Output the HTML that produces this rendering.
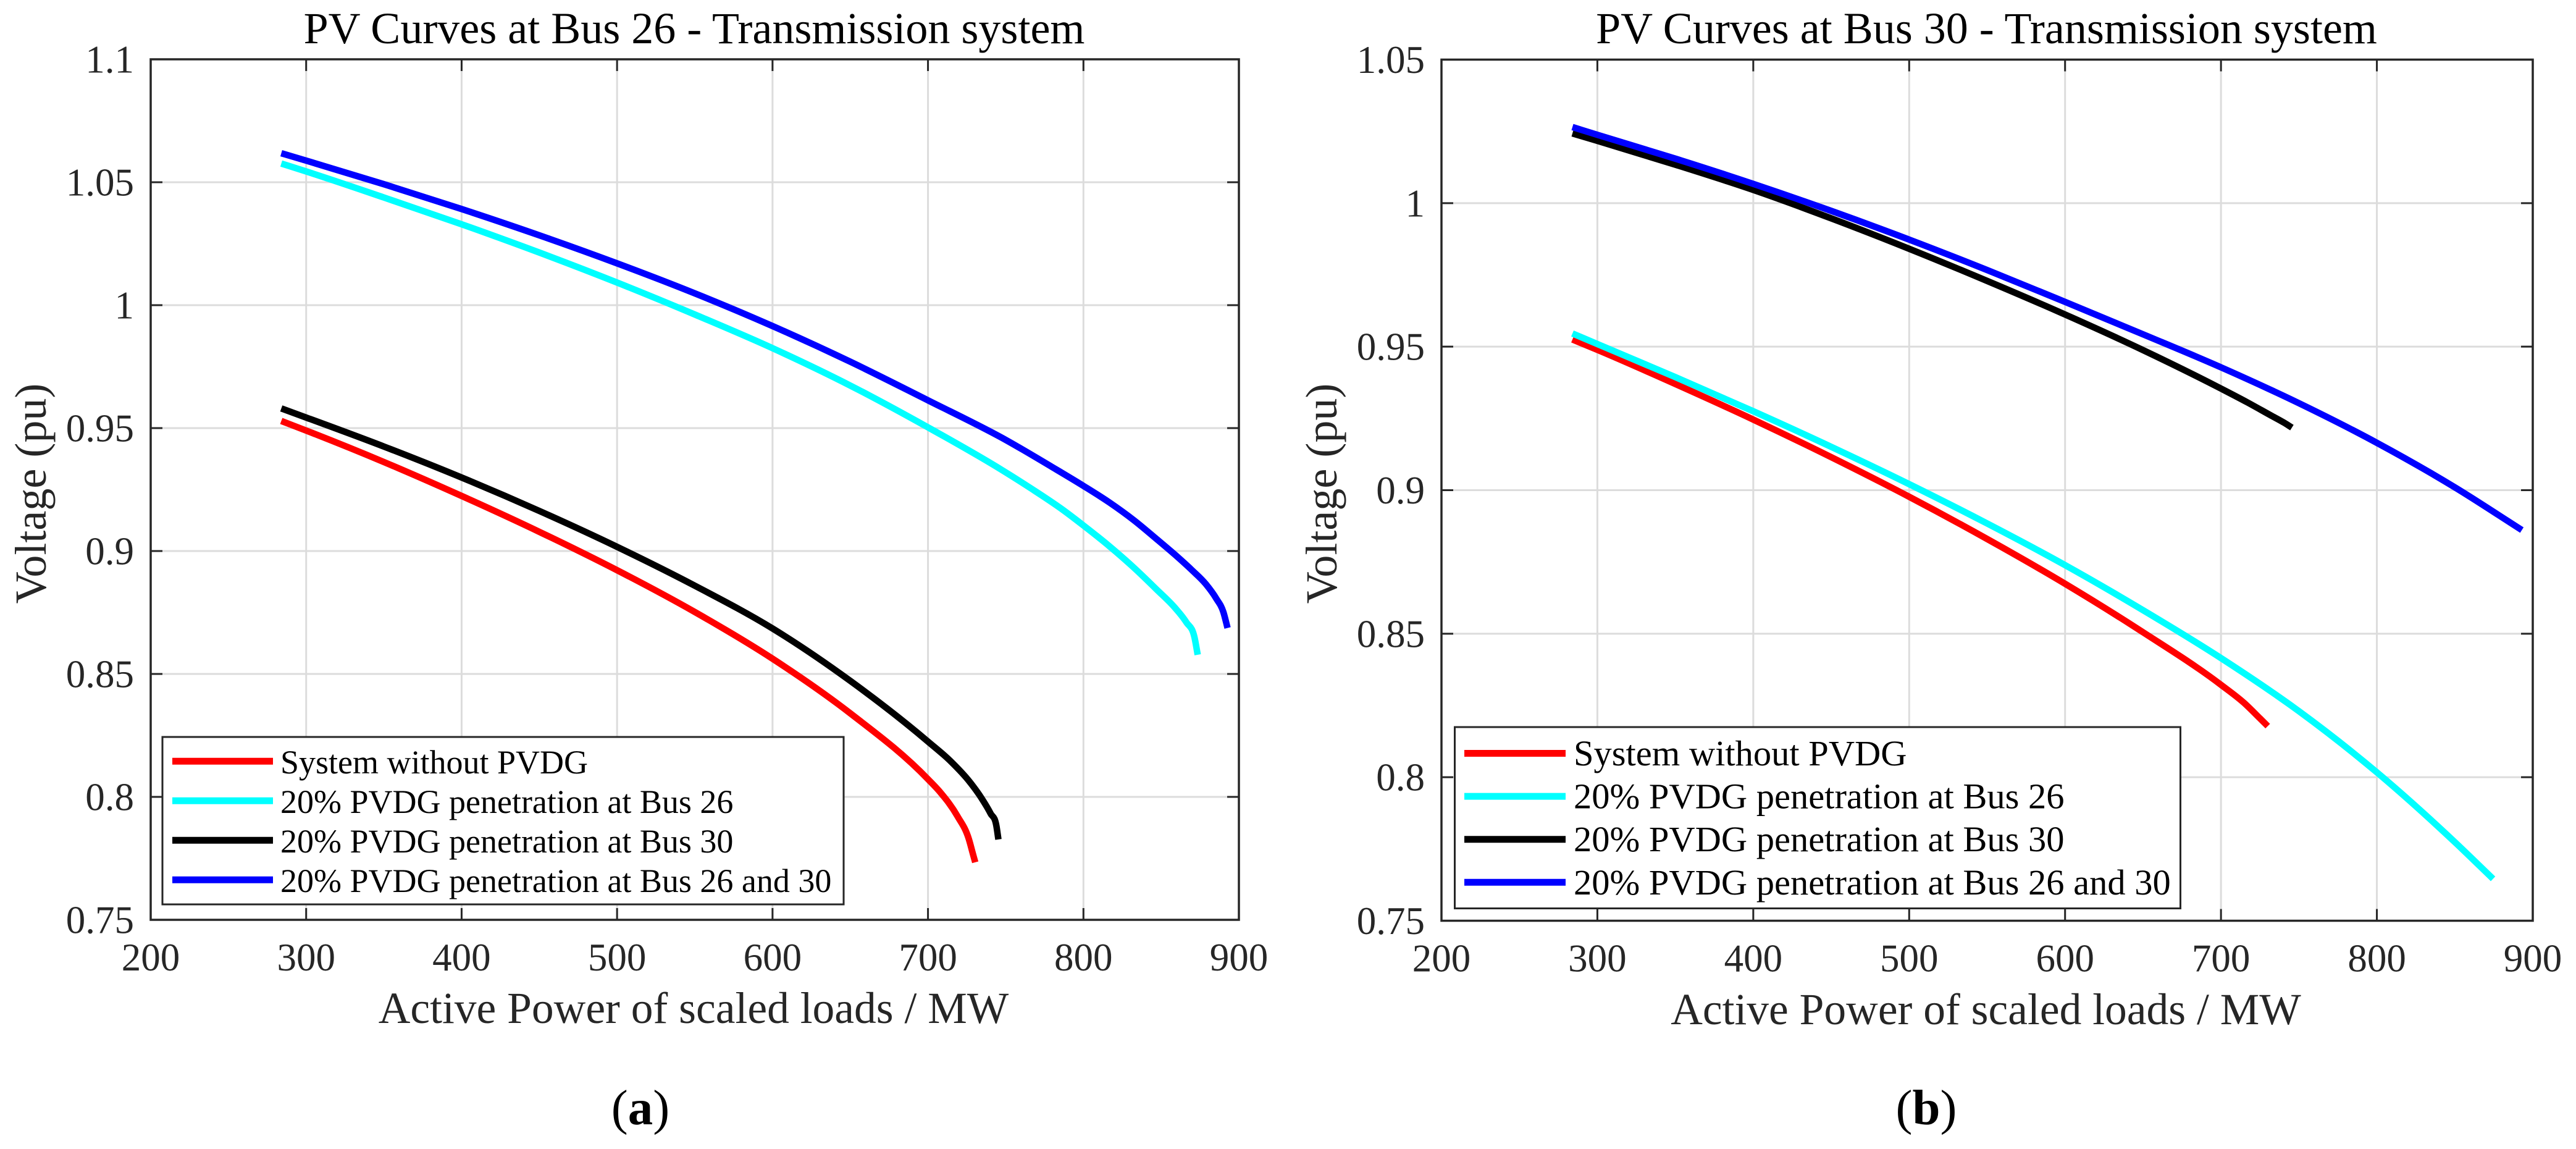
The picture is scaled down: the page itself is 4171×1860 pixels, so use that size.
<!DOCTYPE html>
<html lang="en">
<head>
<meta charset="utf-8">
<title>PV Curves - Transmission system</title>
<style>
html,body{margin:0;padding:0;background:#fff;width:4171px;height:1860px;overflow:hidden}
svg{display:block;position:absolute;left:0;top:0}
text{font-family:"Liberation Serif","Times New Roman",serif}
</style>
</head>
<body>
<svg id="fig" xmlns="http://www.w3.org/2000/svg" width="4171" height="1860" viewBox="0 0 4171 1860">
  <rect x="0" y="0" width="4171" height="1860" fill="#fff"/>
  <g id="chart-a"></g>
  <g id="chart-b"></g>
  <text x="1037" y="1820" font-size="81" text-anchor="middle" fill="#000">(<tspan font-weight="bold">a</tspan>)</text>
  <text x="3119" y="1820" font-size="81" text-anchor="middle" fill="#000">(<tspan font-weight="bold">b</tspan>)</text>
</svg>
<script>
// Shared axis tick values
const xTickValues = [200, 300, 400, 500, 600, 700, 800, 900];
const xTickLabels = ['200', '300', '400', '500', '600', '700', '800', '900'];

// Panel (a): y ticks
const yTickValuesA = [0.75, 0.8, 0.85, 0.9, 0.95, 1, 1.05, 1.1];
const yTickLabelsA = ['0.75', '0.8', '0.85', '0.9', '0.95', '1', '1.05', '1.1'];

// Panel (b): y ticks
const yTickValuesB = [0.75, 0.8, 0.85, 0.9, 0.95, 1, 1.05];
const yTickLabelsB = ['0.75', '0.8', '0.85', '0.9', '0.95', '1', '1.05'];

// Legend categories
const seriesNames = ['System without PVDG', '20% PVDG penetration at Bus 26', '20% PVDG penetration at Bus 30', '20% PVDG penetration at Bus 26 and 30'];
const seriesColors = ['#ff0000', '#00ffff', '#000000', '#0000ff'];

// Panel (a) series — active power (MW) and voltage (pu)
const aRedP   = [284, 300, 350, 400, 450, 500, 550, 600, 650, 700, 708, 719, 726.3, 728.9, 730.4];
const aRedV   = [0.9529, 0.949, 0.9362, 0.9224, 0.9078, 0.8922, 0.8752, 0.8562, 0.834, 0.8072, 0.8018, 0.7921, 0.7828, 0.7768, 0.7734];
const aCyanP  = [284, 300, 350, 400, 450, 500, 550, 600, 650, 700, 746.4, 766.2, 786, 800, 816.6, 832.5, 847, 858.9, 866.2, 871.5, 873.5];
const aCyanV  = [1.0576, 1.0544, 1.0438, 1.0329, 1.0214, 1.0092, 0.9962, 0.9825, 0.9673, 0.9503, 0.9334, 0.9255, 0.9171, 0.9104, 0.902, 0.8932, 0.8844, 0.8769, 0.871, 0.8647, 0.8578];
const aBlackP = [284, 300, 350, 400, 450, 500, 550, 600, 650, 700, 714.4, 726.6, 734.2, 740.3, 744, 745.3];
const aBlackV = [0.958, 0.9543, 0.9425, 0.9299, 0.9163, 0.9017, 0.8859, 0.8685, 0.8472, 0.8225, 0.8146, 0.8063, 0.7997, 0.7932, 0.7882, 0.7827];
const aBlueP  = [284, 300, 350, 400, 450, 500, 550, 600, 650, 700, 750, 779.5, 800, 816.6, 832.5, 847, 858.9, 869.5, 878.8, 885.4, 890, 892.7];
const aBlueV  = [1.0618, 1.0588, 1.0492, 1.0391, 1.0284, 1.017, 1.0048, 0.9915, 0.977, 0.9613, 0.9452, 0.9343, 0.9265, 0.9198, 0.9125, 0.9049, 0.8985, 0.8924, 0.8865, 0.8807, 0.8752, 0.8687];

// Panel (b) series — active power (MW) and voltage (pu)
const bRedP   = [284, 300, 350, 400, 450, 500, 550, 600, 650, 700, 715, 725, 730];
const bRedV   = [0.9525, 0.9489, 0.937, 0.9246, 0.9115, 0.8977, 0.883, 0.8674, 0.8505, 0.8322, 0.8258, 0.8205, 0.8178];
const bCyanP  = [284, 300, 350, 400, 450, 500, 550, 600, 650, 700, 750, 800, 850, 874.5];
const bCyanV  = [0.9546, 0.9509, 0.9394, 0.9275, 0.9151, 0.9021, 0.8884, 0.8739, 0.8582, 0.8415, 0.823, 0.8017, 0.7774, 0.7646];
const bBlackP = [284, 300, 350, 400, 450, 500, 550, 600, 650, 700, 716.9, 731.5, 740.5, 745.5];
const bBlackV = [1.0243, 1.0217, 1.0134, 1.0046, 0.9947, 0.9841, 0.9729, 0.9612, 0.9488, 0.9354, 0.9306, 0.9262, 0.9235, 0.9218];
const bBlueP  = [284, 300, 350, 400, 450, 500, 550, 600, 650, 700, 750, 800, 850, 893];
const bBlueV  = [1.0265, 1.0238, 1.0155, 1.0067, 0.9973, 0.9873, 0.9767, 0.9656, 0.9543, 0.9428, 0.9303, 0.9165, 0.901, 0.8861];

const NS = 'http://www.w3.org/2000/svg';
const INK = '#262626';

function el(parent, tag, attrs, txt) {
  const n = document.createElementNS(NS, tag);
  for (const k in attrs) n.setAttribute(k, attrs[k]);
  if (txt !== undefined) n.textContent = txt;
  parent.appendChild(n);
  return n;
}

// Cubic Hermite path through the points, with tangents that respect uneven spacing
function smoothPath(pts) {
  const n = pts.length, h = [], d = [], m = [];
  for (let i = 0; i < n - 1; i++) {
    h[i] = pts[i + 1][0] - pts[i][0];
    d[i] = (pts[i + 1][1] - pts[i][1]) / h[i];
  }
  m[0] = d[0];
  m[n - 1] = d[n - 2];
  for (let i = 1; i < n - 1; i++) {
    m[i] = (h[i - 1] * d[i] + h[i] * d[i - 1]) / (h[i - 1] + h[i]);
  }
  let s = 'M' + pts[0][0].toFixed(2) + ' ' + pts[0][1].toFixed(2);
  for (let i = 0; i < n - 1; i++) {
    const c1x = pts[i][0] + h[i] / 3, c1y = pts[i][1] + m[i] * h[i] / 3;
    const c2x = pts[i + 1][0] - h[i] / 3, c2y = pts[i + 1][1] - m[i + 1] * h[i] / 3;
    s += 'C' + c1x.toFixed(2) + ' ' + c1y.toFixed(2) + ' ' + c2x.toFixed(2) + ' ' + c2y.toFixed(2) + ' ' + pts[i + 1][0].toFixed(2) + ' ' + pts[i + 1][1].toFixed(2);
  }
  return s;
}

function drawChart(cfg) {
  const g = document.getElementById(cfg.id);
  const L = cfg.left, R = cfg.right, T = cfg.top, B = cfg.bottom;
  const xMin = xTickValues[0], xMax = xTickValues[xTickValues.length - 1];
  const yMin = cfg.yTicks[0], yMax = cfg.yTicks[cfg.yTicks.length - 1];
  const sx = v => L + (v - xMin) / (xMax - xMin) * (R - L);
  const sy = v => B - (v - yMin) / (yMax - yMin) * (B - T);

  // gridlines
  xTickValues.forEach(v => {
    if (v === xMin || v === xMax) return;
    const line = el(g, 'line', {x1: sx(v), x2: sx(v), y1: T, y2: B, stroke: '#dcdcdc', 'stroke-width': 3});
    
    
  });
  cfg.yTicks.forEach(v => {
    if (v === yMin || v === yMax) return;
    const line = el(g, 'line', {x1: L, x2: R, y1: sy(v), y2: sy(v), stroke: '#dcdcdc', 'stroke-width': 3});
    
    
  });

  // series
  cfg.series.forEach((s, i) => {
    const pts = s.p.map((p, k) => [sx(p), sy(s.v[k])]);
    const path = el(g, 'path', {d: smoothPath(pts), fill: 'none', stroke: seriesColors[i], 'stroke-width': 10.5, 'stroke-linecap': 'butt', 'stroke-linejoin': 'round'});
    
    
  });

  // tick marks
  xTickValues.forEach(v => {
    if (v === xMin || v === xMax) return;
    const top = el(g, 'line', {x1: sx(v), x2: sx(v), y1: T, y2: T + 19, stroke: INK, 'stroke-width': 3});
    
    
    const bot = el(g, 'line', {x1: sx(v), x2: sx(v), y1: B, y2: B - 19, stroke: INK, 'stroke-width': 3});
    
    
  });
  cfg.yTicks.forEach(v => {
    if (v === yMin || v === yMax) return;
    const lt = el(g, 'line', {x1: L, x2: L + 19, y1: sy(v), y2: sy(v), stroke: INK, 'stroke-width': 3});
    
    
    const rt = el(g, 'line', {x1: R, x2: R - 19, y1: sy(v), y2: sy(v), stroke: INK, 'stroke-width': 3});
    
    
  });

  // plot box
  const box = el(g, 'rect', {x: L, y: T, width: R - L, height: B - T, fill: 'none', stroke: INK, 'stroke-width': 3.5});
  
  

  // tick labels
  xTickValues.forEach((v, i) => {
    const t = el(g, 'text', {x: sx(v), y: B + 82, 'font-size': 63, 'text-anchor': 'middle', fill: INK}, xTickLabels[i]);
    
    
  });
  cfg.yTicks.forEach((v, i) => {
    const t = el(g, 'text', {x: L - 27, y: sy(v) + 21.5, 'font-size': 63, 'text-anchor': 'end', fill: INK}, cfg.yLabels[i]);
    
    
  });

  // titles
  const cx = (L + R) / 2;
  const title = el(g, 'text', {x: cx - 1, y: 70, 'font-size': 72, 'text-anchor': 'middle', fill: '#000'}, cfg.title);
  
  
  const xl = el(g, 'text', {x: cx - 2, y: cfg.xLabelY, 'font-size': 71.5, 'text-anchor': 'middle', fill: INK}, 'Active Power of scaled loads / MW');
  
  
  const yx = L - 170, yy = 799;
  const yl = el(g, 'text', {x: yx, y: yy, 'font-size': 72, 'text-anchor': 'middle', fill: INK, transform: 'rotate(-90 ' + yx + ' ' + yy + ')'}, 'Voltage (pu)');
  
  

  // legend
  const lg = cfg.legend;
  const legend = el(g, 'g', {});
  
  
  const frame = el(legend, 'rect', {x: lg.left, y: lg.top, width: lg.right - lg.left, height: lg.bottom - lg.top, fill: '#fff', stroke: INK, 'stroke-width': 3});
  
  
  seriesNames.forEach((name, i) => {
    const y = lg.row0 + i * lg.rowGap;
    const sw = el(legend, 'line', {x1: lg.lineX1, x2: lg.lineX2, y1: y, y2: y, stroke: seriesColors[i], 'stroke-width': 11});
    
    
    const tx = el(legend, 'text', {x: lg.textX, y: y + lg.baseOff, 'font-size': lg.font, fill: '#000'}, name);
    
    
  });
}

drawChart({
  id: 'chart-a', left: 244, right: 2006, top: 96, bottom: 1489,
  yTicks: yTickValuesA, yLabels: yTickLabelsA,
  title: 'PV Curves at Bus 26 - Transmission system', xLabelY: 1656,
  series: [
    {key: 'no-pvdg', p: aRedP, v: aRedV},
    {key: 'bus-26', p: aCyanP, v: aCyanV},
    {key: 'bus-30', p: aBlackP, v: aBlackV},
    {key: 'bus-26-and-30', p: aBlueP, v: aBlueV}
  ],
  legend: {left: 263, right: 1366, top: 1193, bottom: 1464, lineX1: 279, lineX2: 442, textX: 454, row0: 1232.3, rowGap: 64, baseOff: 19.5, font: 54}
});

drawChart({
  id: 'chart-b', left: 2334, right: 4101, top: 96.5, bottom: 1490.5,
  yTicks: yTickValuesB, yLabels: yTickLabelsB,
  title: 'PV Curves at Bus 30 - Transmission system', xLabelY: 1658,
  series: [
    {key: 'no-pvdg', p: bRedP, v: bRedV},
    {key: 'bus-26', p: bCyanP, v: bCyanV},
    {key: 'bus-30', p: bBlackP, v: bBlackV},
    {key: 'bus-26-and-30', p: bBlueP, v: bBlueV}
  ],
  legend: {left: 2355.5, right: 3530.5, top: 1177, bottom: 1470.5, lineX1: 2371, lineX2: 2535, textX: 2548, row0: 1219.5, rowGap: 69.6, baseOff: 19.5, font: 58.5}
});
</script>
</body>
</html>
